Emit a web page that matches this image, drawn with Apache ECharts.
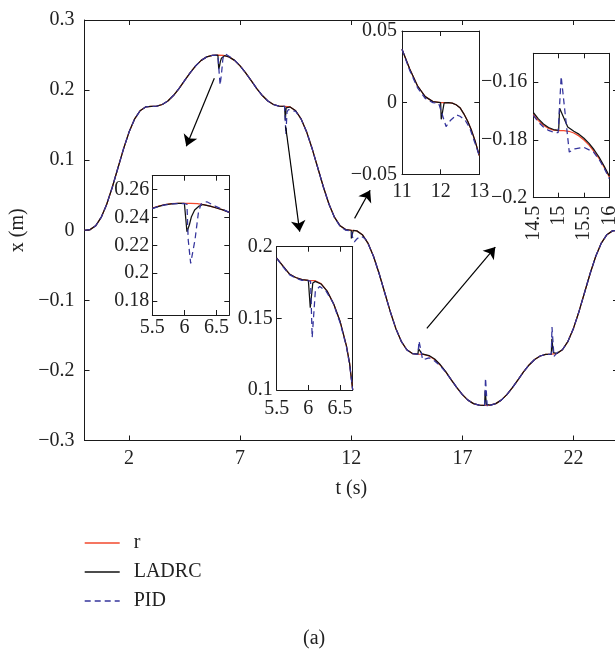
<!DOCTYPE html>
<html><head><meta charset="utf-8">
<script src="https://cdn.jsdelivr.net/npm/echarts@6/dist/echarts.min.js"></script>
<style>html,body{margin:0;padding:0;background:#fff}#c{width:615px;height:652px}</style>
</head><body><div id="c"></div>
<script>
// ---------------- data ----------------
const T = [0,0.25,0.5,0.75,1,1.25,1.5,1.75,2,2.25,2.5,2.75,3,3.25,3.5,3.75,4,4.25,4.5,4.75,5,5.25,5.5,5.75,6,6.25,6.5,6.75,7,7.25,7.5,7.75,8,8.25,8.5,8.75,9,9.25,9.5,9.75,10,10.25,10.5,10.75,11,11.25,11.5,11.75,12,12.25,12.5,12.75,13,13.25,13.5,13.75,14,14.25,14.5,14.75,15,15.25,15.5,15.75,16,16.25,16.5,16.75,17,17.25,17.5,17.75,18,18.25,18.5,18.75,19,19.25,19.5,19.75,20,20.25,20.5,20.75,21,21.25,21.5,21.75,22,22.25,22.5,22.75,23,23.25,23.5,23.75,24];
const rMain = [0,0.0009,0.0063,0.0183,0.0371,0.0613,0.0884,0.1155,0.1397,0.1585,0.1705,0.1759,0.1768,0.1772,0.1794,0.1844,0.1922,0.2022,0.2134,0.2246,0.2346,0.2424,0.2474,0.2496,0.25,0.2496,0.2474,0.2424,0.2346,0.2246,0.2134,0.2022,0.1922,0.1844,0.1794,0.1772,0.1768,0.1759,0.1705,0.1585,0.1397,0.1155,0.0884,0.0613,0.0371,0.0183,0.0063,0.0009,0,-0.0009,-0.0063,-0.0183,-0.0371,-0.0613,-0.0884,-0.1155,-0.1397,-0.1585,-0.1705,-0.1759,-0.1768,-0.1772,-0.1794,-0.1844,-0.1922,-0.2022,-0.2134,-0.2246,-0.2346,-0.2424,-0.2474,-0.2496,-0.25,-0.2496,-0.2474,-0.2424,-0.2346,-0.2246,-0.2134,-0.2022,-0.1922,-0.1844,-0.1794,-0.1772,-0.1768,-0.1759,-0.1705,-0.1585,-0.1397,-0.1155,-0.0884,-0.0613,-0.0371,-0.0183,-0.0063,-0.0009,0];
const ladrcMain = [[0,0],[0.25,0.0009],[0.5,0.0063],[0.75,0.0183],[1,0.0371],[1.25,0.0613],[1.5,0.0884],[1.75,0.1155],[2,0.1397],[2.25,0.1585],[2.5,0.1705],[2.75,0.1759],[3,0.1768],[3.25,0.1772],[3.5,0.1794],[3.75,0.1844],[4,0.1922],[4.25,0.2022],[4.5,0.2134],[4.75,0.2246],[5,0.2346],[5.25,0.2424],[5.5,0.2474],[5.75,0.2496],[6,0.25],[6.02,0.2499],[6.04,0.2298],[6.08,0.235],[6.11,0.2406],[6.16,0.2454],[6.23,0.2482],[6.3,0.2492],[6.5,0.2474],[6.75,0.2424],[7,0.2346],[7.25,0.2246],[7.5,0.2134],[7.75,0.2022],[8,0.1922],[8.25,0.1844],[8.5,0.1794],[8.75,0.1772],[9,0.1768],[9.02,0.1767],[9.035,0.1574],[9.07,0.1747],[9.11,0.1758],[9.25,0.1759],[9.5,0.1705],[9.75,0.1585],[10,0.1397],[10.25,0.1155],[10.5,0.0884],[10.75,0.0613],[11,0.0371],[11.25,0.0183],[11.5,0.0063],[11.75,0.0009],[12,0],[12.005,-0.0116],[12.09,-0.0002],[12.25,-0.0009],[12.5,-0.0063],[12.75,-0.0183],[13,-0.0371],[13.25,-0.0613],[13.5,-0.0884],[13.75,-0.1155],[14,-0.1397],[14.25,-0.1585],[14.5,-0.1705],[14.75,-0.1759],[15,-0.1768],[15.015,-0.1766],[15.025,-0.169],[15.18,-0.1765],[15.25,-0.1768],[15.5,-0.1788],[15.75,-0.1838],[16,-0.1916],[16.25,-0.2018],[16.5,-0.2134],[16.75,-0.2246],[17,-0.2346],[17.25,-0.2424],[17.5,-0.2474],[17.75,-0.2496],[18,-0.25],[18.01,-0.2498],[18.025,-0.229],[18.08,-0.2485],[18.25,-0.2494],[18.5,-0.2474],[18.75,-0.2424],[19,-0.2346],[19.25,-0.2246],[19.5,-0.2134],[19.75,-0.2022],[20,-0.1922],[20.25,-0.1844],[20.5,-0.1794],[20.75,-0.1772],[21,-0.1768],[21.01,-0.1766],[21.025,-0.155],[21.09,-0.1745],[21.25,-0.1757],[21.5,-0.1705],[21.75,-0.1585],[22,-0.1397],[22.25,-0.1155],[22.5,-0.0884],[22.75,-0.0613],[23,-0.0371],[23.25,-0.0183],[23.5,-0.0063],[23.75,-0.0009],[24,0]];
const pidMain = [[0,0],[0.25,0.0009],[0.5,0.0063],[0.75,0.0183],[1,0.0371],[1.25,0.0613],[1.5,0.0884],[1.75,0.1155],[2,0.1397],[2.25,0.1585],[2.5,0.1705],[2.75,0.1759],[3,0.1768],[3.25,0.1772],[3.5,0.1794],[3.75,0.1844],[4,0.1922],[4.25,0.2022],[4.5,0.2134],[4.75,0.2246],[5,0.2346],[5.25,0.2424],[5.5,0.2474],[5.75,0.2496],[6,0.25],[6.04,0.2495],[6.06,0.2238],[6.1,0.2071],[6.165,0.2238],[6.22,0.243],[6.26,0.2497],[6.35,0.2513],[6.5,0.2482],[6.75,0.2428],[7,0.2346],[7.25,0.2246],[7.5,0.2134],[7.75,0.2022],[8,0.1922],[8.25,0.1844],[8.5,0.1794],[8.75,0.1772],[9,0.1768],[9.03,0.1765],[9.06,0.1366],[9.11,0.169],[9.18,0.1723],[9.3,0.1712],[9.5,0.1695],[9.75,0.1582],[10,0.1397],[10.25,0.1155],[10.5,0.0884],[10.75,0.0613],[11,0.0371],[11.25,0.0178],[11.5,0.0055],[11.75,0.0001],[12,-0.0008],[12.06,-0.01],[12.14,-0.0167],[12.25,-0.0125],[12.41,-0.0086],[12.5,-0.0095],[12.63,-0.0121],[12.75,-0.0185],[13,-0.0372],[13.25,-0.0613],[13.5,-0.0884],[13.75,-0.1155],[14,-0.1397],[14.25,-0.1585],[14.5,-0.1708],[14.75,-0.1762],[15,-0.177],[15.05,-0.158],[15.21,-0.1845],[15.35,-0.1835],[15.5,-0.182],[15.75,-0.1865],[16,-0.1934],[16.25,-0.2025],[16.5,-0.2134],[16.75,-0.2246],[17,-0.2346],[17.25,-0.2424],[17.5,-0.2474],[17.75,-0.2496],[18,-0.25],[18.04,-0.211],[18.12,-0.2525],[18.25,-0.2498],[18.5,-0.2474],[18.75,-0.2424],[19,-0.2346],[19.25,-0.2246],[19.5,-0.2134],[19.75,-0.2022],[20,-0.1922],[20.25,-0.1844],[20.5,-0.1794],[20.75,-0.1772],[21,-0.1768],[21.03,-0.138],[21.12,-0.18],[21.3,-0.1735],[21.5,-0.1705],[21.75,-0.1585],[22,-0.1397],[22.25,-0.1155],[22.5,-0.0884],[22.75,-0.0613],[23,-0.0371],[23.25,-0.0183],[23.5,-0.0063],[23.75,-0.0009],[24,0]];

// inset 1 (around the peak)
const r1 = [[5.5,0.2468],[5.6,0.2482],[5.7,0.2493],[5.8,0.2499],[5.9,0.2502],[6,0.2502],[6.1,0.2502],[6.2,0.2499],[6.3,0.2493],[6.4,0.2482],[6.5,0.2468],[6.6,0.2455],[6.7,0.2437]];
const ladrc1 = [[5.5,0.2466],[5.6,0.248],[5.7,0.2492],[5.8,0.2498],[5.9,0.2501],[6,0.2501],[6.025,0.25],[6.04,0.2298],[6.077,0.2346],[6.11,0.2406],[6.16,0.2454],[6.23,0.2482],[6.29,0.2493],[6.4,0.2482],[6.5,0.2468],[6.6,0.2455],[6.7,0.2437]];
const pid1 = [[5.5,0.2464],[5.6,0.2479],[5.7,0.249],[5.8,0.2497],[5.9,0.25],[6,0.25],[6.04,0.2495],[6.06,0.2238],[6.098,0.2071],[6.165,0.2238],[6.217,0.243],[6.258,0.2497],[6.35,0.2513],[6.48,0.2482],[6.6,0.2457],[6.7,0.2437]];
// inset 2
const r2 = [[5.5,0.192],[5.6,0.1865],[5.7,0.181],[5.8,0.1785],[5.9,0.177],[6,0.1765],[6.1,0.1763],[6.2,0.1742],[6.3,0.1688],[6.4,0.16],[6.5,0.148],[6.6,0.131],[6.65,0.119],[6.7,0.1]];
const ladrc2 = [[5.5,0.192],[5.6,0.1865],[5.7,0.181],[5.8,0.1785],[5.9,0.177],[6,0.1765],[6.017,0.1765],[6.03,0.1574],[6.07,0.1747],[6.11,0.1758],[6.2,0.174],[6.3,0.1688],[6.4,0.16],[6.5,0.148],[6.6,0.131],[6.65,0.119],[6.7,0.1]];
const pid2 = [[5.5,0.1918],[5.6,0.186],[5.7,0.1805],[5.8,0.178],[5.9,0.1765],[6,0.1762],[6.035,0.176],[6.06,0.1366],[6.11,0.169],[6.18,0.1723],[6.28,0.169],[6.39,0.1608],[6.5,0.147],[6.6,0.1305],[6.65,0.118],[6.7,0.1]];
// inset 3
const r3 = [[11,0.0373],[11.2,0.0235],[11.4,0.0118],[11.6,0.0042],[11.8,0.0007],[12,0],[12.2,0],[12.3,-0.0003],[12.4,-0.0015],[12.5,-0.0035],[12.6,-0.0078],[12.7,-0.013],[12.8,-0.0195],[12.9,-0.0275],[13,-0.037]];
const ladrc3 = [[11,0.0373],[11.2,0.0235],[11.4,0.0118],[11.6,0.0042],[11.8,0.0007],[12,0],[12.015,-0.0116],[12.09,-0.0002],[12.2,0],[12.3,-0.0003],[12.4,-0.0015],[12.5,-0.0035],[12.6,-0.0078],[12.7,-0.013],[12.8,-0.0195],[12.9,-0.0275],[13,-0.037]];
const pid3 = [[11,0.0373],[11.2,0.0225],[11.4,0.0105],[11.6,0.003],[11.8,0],[11.95,-0.0005],[12,-0.0008],[12.14,-0.0167],[12.25,-0.0125],[12.41,-0.0086],[12.5,-0.0095],[12.63,-0.0121],[12.75,-0.0175],[12.92,-0.0307],[13,-0.0372]];
// inset 4
const r4 = [[14.5,-0.1712],[14.6,-0.1733],[14.7,-0.1749],[14.8,-0.176],[14.9,-0.1766],[15,-0.1768],[15.1,-0.1768],[15.2,-0.177],[15.3,-0.1776],[15.4,-0.1786],[15.5,-0.18],[15.6,-0.1818],[15.7,-0.184],[15.8,-0.1865],[15.9,-0.1895],[16,-0.1928]];
const ladrc4 = [[14.5,-0.1705],[14.6,-0.1727],[14.7,-0.1745],[14.8,-0.1757],[14.9,-0.1764],[15,-0.1767],[15.01,-0.1765],[15.02,-0.169],[15.18,-0.1755],[15.3,-0.177],[15.4,-0.178],[15.5,-0.1794],[15.6,-0.1812],[15.7,-0.1834],[15.8,-0.186],[15.9,-0.1891],[16,-0.1925]];
const pid4 = [[14.5,-0.1715],[14.6,-0.1738],[14.7,-0.1755],[14.8,-0.1767],[14.9,-0.1773],[14.99,-0.1775],[15.05,-0.158],[15.21,-0.1842],[15.32,-0.1831],[15.49,-0.1825],[15.69,-0.1842],[15.8,-0.1868],[15.9,-0.1898],[16,-0.1934]];

// tick values
const xTicksMain = [2,7,12,17,22];
const yTicksMain = [-0.3,-0.2,-0.1,0,0.1,0.2,0.3];
const xTicks12 = [5.5,6,6.5];
const yTicks1 = [0.18,0.2,0.22,0.24,0.26];
const yTicks2 = [0.1,0.15,0.2];
const xTicks3 = [11,12,13];
const yTicks3 = [-0.05,0,0.05];
const xTicks4 = [14.5,15,15.5,16];
const yTicks4 = [-0.2,-0.18,-0.16];
const seriesNames = ['r','LADRC','PID'];
// arrows [tailT, tailX, headT, headX] in data units of the main axes
const arrows = [[5.84,0.217,4.58,0.12],[9.05,0.148,9.68,-0.002],[12.15,0.017,12.85,0.057],[15.4,-0.14,18.48,-0.024]];

// ---------------- chart ----------------
const FONT = 'Liberation Serif';
const FS = 20;
const AX = '#1a1a1a';
const TXT = '#222';
const C_R = '#f2492d', C_L = '#111111', C_P = '#34349c';
function fmt(v){ return String(Math.round(v*1000)/1000).replace('-', '\u2212'); }

function xAx(grid, min, max, ticks, top, o) {
  o = o || {};
  return {
    type:'value', gridIndex:grid, min:min, max:max, position: top ? 'top' : 'bottom',
    axisLine:{show:true, onZero:false, lineStyle:{color:AX, width:1}},
    axisTick:{show:true, inside:true, length:5, customValues:ticks, lineStyle:{color:AX, width:1}},
    axisLabel:{show:!top, customValues:ticks, margin:o.margin||6, rotate:o.rotate||0, formatter:fmt,
      fontFamily:FONT, fontSize:FS, color:TXT},
    splitLine:{show:false},
    name: (!top && o.name) ? o.name : '', nameLocation:'middle', nameGap:o.nameGap||30,
    nameTextStyle:{fontFamily:FONT, fontSize:FS, color:TXT}
  };
}
function yAx(grid, min, max, ticks, right, o) {
  o = o || {};
  return {
    type:'value', gridIndex:grid, min:min, max:max, position: right ? 'right' : 'left',
    axisLine:{show:true, onZero:false, lineStyle:{color:AX, width:1}},
    axisTick:{show:true, inside:true, length:5, customValues:ticks, lineStyle:{color:AX, width:1}},
    axisLabel:{show:!right, customValues:ticks, margin:o.margin||4, formatter:fmt,
      fontFamily:FONT, fontSize:FS, color:TXT},
    splitLine:{show:false},
    name: (!right && o.name) ? o.name : '', nameLocation:'middle', nameGap:o.nameGap||40,
    nameTextStyle:{fontFamily:FONT, fontSize:FS, color:TXT}
  };
}
function ln(name, data, idx, color, dashed) {
  return {
    type:'line', name:name, data:data, xAxisIndex:idx*2, yAxisIndex:idx*2,
    symbol:'none', showSymbol:false, clip:true, smooth:false,
    lineStyle:{color:color, width:1.25, type: dashed ? [6,4] : 'solid'},
    itemStyle:{color:color}, emphasis:{disabled:true}
  };
}

const grids = [
  {left:84.5, top:20, right:-3, bottom:211.5},
  {left:152.3, top:175.7, width:77, height:139.3, show:true, backgroundColor:'#fff', borderWidth:0},
  {left:276.7, top:246.7, width:76, height:143.3, show:true, backgroundColor:'#fff', borderWidth:0},
  {left:402, top:31, width:77.3, height:143.3, show:true, backgroundColor:'#fff', borderWidth:0},
  {left:533.3, top:53.3, width:76, height:144.4, show:true, backgroundColor:'#fff', borderWidth:0}
].map(g => Object.assign({outerBoundsMode:'none', containLabel:false}, g));

const xAxes = [
  xAx(0, 0, 24, xTicksMain, false, {margin:8, name:'t (s)', nameGap:38}), xAx(0, 0, 24, xTicksMain, true),
  xAx(1, 5.5, 6.7, xTicks12, false, {margin:3}), xAx(1, 5.5, 6.7, xTicks12, true),
  xAx(2, 5.5, 6.7, xTicks12, false, {margin:9}), xAx(2, 5.5, 6.7, xTicks12, true),
  xAx(3, 11, 13, xTicks3, false, {margin:7}), xAx(3, 11, 13, xTicks3, true),
  xAx(4, 14.5, 16, xTicks4, false, {margin:8, rotate:90}), xAx(4, 14.5, 16, xTicks4, true)
];
const yAxes = [
  yAx(0, -0.3, 0.3, yTicksMain, false, {margin:10, name:'x (m)', nameGap:56}), yAx(0, -0.3, 0.3, yTicksMain, true),
  yAx(1, 0.17, 0.27, yTicks1, false, {margin:3}), yAx(1, 0.17, 0.27, yTicks1, true),
  yAx(2, 0.1, 0.2, yTicks2, false, {margin:4}), yAx(2, 0.1, 0.2, yTicks2, true),
  yAx(3, -0.05, 0.05, yTicks3, false, {margin:5}), yAx(3, -0.05, 0.05, yTicks3, true),
  yAx(4, -0.2, -0.15, yTicks4, false, {margin:6}), yAx(4, -0.2, -0.15, yTicks4, true)
];

const mainR = ln(seriesNames[0], T.map((t, i) => [t, rMain[i]]), 0, C_R, false);
mainR.markLine = {
  silent:true, animation:false, symbol:['none','arrow'], symbolSize:11,
  lineStyle:{color:'#000', width:1.2, type:'solid'}, label:{show:false},
  emphasis:{disabled:true},
  data: arrows.map(a => [{coord:[a[0], a[1]]}, {coord:[a[2], a[3]]}])
};

const series = [
  mainR, ln(seriesNames[1], ladrcMain, 0, C_L, false), ln(seriesNames[2], pidMain, 0, C_P, true),
  ln(seriesNames[0], r1, 1, C_R, false), ln(seriesNames[1], ladrc1, 1, C_L, false), ln(seriesNames[2], pid1, 1, C_P, true),
  ln(seriesNames[0], r2, 2, C_R, false), ln(seriesNames[1], ladrc2, 2, C_L, false), ln(seriesNames[2], pid2, 2, C_P, true),
  ln(seriesNames[0], r3, 3, C_R, false), ln(seriesNames[1], ladrc3, 3, C_L, false), ln(seriesNames[2], pid3, 3, C_P, true),
  ln(seriesNames[0], r4, 4, C_R, false), ln(seriesNames[1], ladrc4, 4, C_L, false), ln(seriesNames[2], pid4, 4, C_P, true)
];

const chart = echarts.init(document.getElementById('c'), null, {renderer:'canvas', width:615, height:652});
chart.setOption({
  animation:false,
  backgroundColor:'#fff',
  title:{text:'(a)', left:303, top:629, padding:0,
    textStyle:{fontFamily:FONT, fontSize:FS, fontWeight:'normal', color:TXT}},
  legend:{orient:'vertical', left:84, top:533, itemWidth:35, itemHeight:13, itemGap:9, padding:0,
    selectedMode:false, data:seriesNames, itemStyle:{opacity:0}, lineStyle:{width:1.4},
    textStyle:{fontFamily:FONT, fontSize:FS, color:TXT, padding:[0,0,0,9]}},
  grid:grids, xAxis:xAxes, yAxis:yAxes, series:series
});
</script>
</body></html>
